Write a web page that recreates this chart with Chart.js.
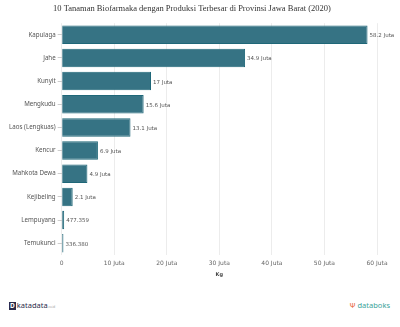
<!DOCTYPE html>
<html>
<head>
<meta charset="utf-8">
<script src="https://cdn.jsdelivr.net/npm/chart.js@4/dist/chart.umd.min.js"></script>
<style>
  body { margin: 0; background: #fff; }
  #wrap { position: relative; width: 400px; height: 327px; }
  #box { position: absolute; left: 0; top: 0; width: 400px; height: 280px; }
  .foot { position: absolute; top: 300px; font-family: "Noto Sans", sans-serif; font-size: 7.5px; }
  #kd { left: 9px; color: #2b2b4a; }
  #kd b { display: inline-block; background: #2b2b4a; color: #fff; font-size: 6.5px; line-height: 8px; padding: 0 1px; margin-right: 1px; }
  #kd small { font-size: 3px; color: #999; }
  #db { right: 10px; color: #3aa39a; }
  #db span { color: #e8663a; }
</style>
</head>
<body>
<div id="wrap">
  <div id="box"><canvas id="grafik"></canvas></div>
  <div class="foot" id="kd"><b>D</b>katadata<small>.co.id</small></div>
  <div class="foot" id="db"><span>&#936;</span> databoks</div>
</div>
<script>
var kategori = ['Kapulaga', 'Jahe', 'Kunyit', 'Mengkudu', 'Laos (Lengkuas)', 'Kencur', 'Mahkota Dewa', 'Kejibeling', 'Lempuyang', 'Temukunci'];
// produksi dalam juta kg
var produksi = [58.2, 34.9, 17, 15.6, 13.1, 6.9, 4.9, 2.1, 0.477359, 0.33638];
var labelNilai = ['58.2 Juta', '34.9 Juta', '17 Juta', '15.6 Juta', '13.1 Juta', '6.9 Juta', '4.9 Juta', '2.1 Juta', '477.359', '336.380'];
var tickX = [0, 10, 20, 30, 40, 50, 60];

// plugin sederhana untuk label di ujung batang
var labelBatang = {
    id: 'labelBatang',
    afterDatasetsDraw: function (chart) {
        var ctx = chart.ctx;
        var meta = chart.getDatasetMeta(0);
        ctx.save();
        ctx.font = '5.5px "DejaVu Sans", sans-serif';
        ctx.fillStyle = '#555';
        ctx.textBaseline = 'middle';
        meta.data.forEach(function (bar, i) {
            ctx.fillText(labelNilai[i], bar.x + 2, bar.y + 1);
        });
        ctx.restore();
    }
};

var ctx = document.getElementById('grafik').getContext('2d');
var myChart = new Chart(ctx, {
    type: 'bar',
    data: {
        labels: kategori,
        datasets: [{
            label: 'Produksi',
            data: produksi,
            backgroundColor: '#367384',
            borderColor: '#1f6778',
            borderWidth: 1,
            barPercentage: 0.8,
            categoryPercentage: 1
        }]
    },
    options: {
        indexAxis: 'y',
        responsive: true,
        maintainAspectRatio: false,
        animation: false,
        layout: { padding: { left: 7, right: 23, top: 2, bottom: 0 } },
        plugins: {
            legend: { display: false },
            tooltip: { enabled: false },
            title: {
                display: true,
                text: '10 Tanaman Biofarmaka dengan Produksi Terbesar di Provinsi Jawa Barat (2020)',
                color: '#333',
                font: { family: '"Liberation Serif", serif', size: 8.5, weight: 'normal' },
                padding: { top: 2, bottom: 9 }
            }
        },
        scales: {
            x: {
                min: 0,
                max: 60,
                afterBuildTicks: function (axis) {
                    axis.ticks = tickX.map(function (v) { return { value: v }; });
                },
                ticks: {
                    color: '#666',
                    font: { family: '"DejaVu Sans", sans-serif', size: 6 },
                    padding: 5,
                    callback: function (v) { return v === 0 ? '0' : v + ' Juta'; }
                },
                grid: { color: '#ececec', drawTicks: false },
                border: { display: false },
                title: {
                    display: true,
                    text: 'Kg',
                    color: '#444',
                    font: { family: '"DejaVu Sans", sans-serif', size: 5, weight: 'bold' },
                    padding: { top: 0, bottom: 2 }
                }
            },
            y: {
                ticks: {
                    color: '#555',
                    font: { family: '"Noto Sans", sans-serif', size: 6.2 },
                    padding: 2
                },
                grid: { drawOnChartArea: false, tickLength: 4, color: '#ccc', offset: false },
                border: { display: false }
            }
        }
    },
    plugins: [labelBatang]
});
</script>
</body>
</html>
